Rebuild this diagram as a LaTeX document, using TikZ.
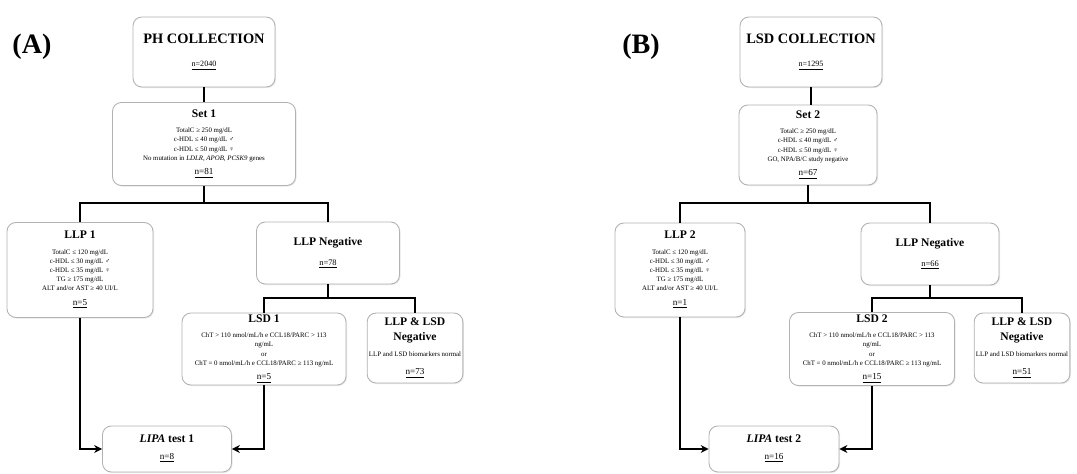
\documentclass[tikz,border=0pt]{standalone}
\usepackage{fontspec}
\setmainfont{Liberation Serif}
\usetikzlibrary{arrows.meta,calc,positioning,shadows}
\newcommand\boxtitle{\bfseries\fontsize{6.6}{8}\selectfont}
\newcommand\bigtitle{\bfseries\fontsize{8.2}{10}\selectfont}
\newcommand\crit{\fontsize{3.9}{5.2}\selectfont}
\newcommand\cnt{\fontsize{5.2}{6.5}\selectfont}
\tikzset{
  panel/.style={font=\bfseries\fontsize{16}{18}\selectfont},
  box/.style={draw=black!30,fill=white,rounded corners=5pt,line width=.5pt,align=center,inner sep=1pt,
    font=\crit,drop shadow={opacity=.18,shadow xshift=.6pt,shadow yshift=-.6pt}},
  link/.style={draw=black,line width=.8pt},
  arr/.style={link,-{Stealth[length=4.5pt,width=4.5pt]}},
}
\begin{document}
\begin{tikzpicture}[x=0.02cm,y=-0.02cm]
  \useasboundingbox (0,0) rectangle (1077,473);
  % panel (A)
  \node[panel] (labA) at (32,47) {(A)};
  \node[box,minimum width=2.84cm,minimum height=1.4cm] (phc) at (204,52)
    {{\bigtitle PH COLLECTION}\\[8pt]{\fontsize{4.6}{6}\selectfont\underline{n=2040}}};
  \node[box,minimum width=3.66cm,minimum height=1.66cm] (set1) at (204,144)
    {{\boxtitle Set 1}\\[3.5pt]TotalC ≥ 250 mg/dL\\c-HDL ≤ 40 mg/dL ♂\\c-HDL ≤ 50 mg/dL ♀\\
     No mutation in \textit{LDLR, APOB, PCSK9} genes\\[3pt]{\cnt\underline{n=81}}};
  \node[box,minimum width=2.92cm,minimum height=1.9cm] (llp1) at (80,270)
    {{\boxtitle LLP 1}\\[3.5pt]TotalC ≤ 120 mg/dL\\c-HDL ≤ 30 mg/dL ♂\\c-HDL ≤ 35 mg/dL ♀\\
     TG ≥ 175 mg/dL\\ALT and/or AST ≥ 40 UI/L\\[3pt]{\cnt\underline{n=5}}};
  \node[box,minimum width=2.86cm,minimum height=1.24cm] (llpneg1) at (328,253)
    {{\boxtitle LLP Negative}\\[6pt]{\fontsize{4.8}{6}\selectfont\underline{n=78}}};
  \node[box,minimum width=3.28cm,minimum height=1.44cm] (lsd1) at (264,349)
    {{\boxtitle LSD 1}\\[3.5pt]ChT > 110 nmol/mL/h e CCL18/PARC > 113\\ng/mL\\or\\
     ChT = 0 nmol/mL/h e CCL18/PARC ≥ 113 ng/mL\\[3pt]{\cnt\underline{n=5}}};
  \node[box,minimum width=1.88cm,minimum height=1.4cm] (lspneg1) at (415,348)
    {{\boxtitle LLP \& LSD}\\[3pt]{\boxtitle Negative}\\[4pt]LLP and LSD biomarkers normal\\[5pt]{\cnt\underline{n=73}}};
  \node[box,minimum width=2.58cm,minimum height=0.92cm] (lipa1) at (167,449)
    {{\boxtitle\textit{LIPA} test 1}\\[4pt]{\cnt\underline{n=8}}};
  \coordinate (brA1) at (204,203);
  \coordinate (brA2) at (328,298);
  \draw[link] (phc) -- (set1);
  \draw[link] (set1) -- (brA1);
  \draw[link] (brA1) -| (llp1.north);
  \draw[link] (brA1) -| (llpneg1.north);
  \draw[link] (llpneg1) -- (brA2);
  \draw[link] (brA2) -| (lsd1.north);
  \draw[link] (brA2) -| (lspneg1.north);
  \draw[arr] (llp1.south) |- (lipa1.west);
  \draw[arr] (lsd1.south) |- (lipa1.east);
  % panel (B)
  \node[panel] (labB) at (641,47) {(B)};
  \node[box,minimum width=2.84cm,minimum height=1.4cm] (lsdc) at (811,52)
    {{\bigtitle LSD COLLECTION}\\[8pt]{\fontsize{4.6}{6}\selectfont\underline{n=1295}}};
  \node[box,minimum width=2.76cm,minimum height=1.6cm] (set2) at (808,145)
    {{\boxtitle Set 2}\\[3.5pt]TotalC ≥ 250 mg/dL\\c-HDL ≤ 40 mg/dL ♂\\c-HDL ≤ 50 mg/dL ♀\\
     GO, NPA/B/C study negative\\[3pt]{\cnt\underline{n=67}}};
  \node[box,minimum width=2.6cm,minimum height=1.88cm] (llp2) at (680,270)
    {{\boxtitle LLP 2}\\[3.5pt]TotalC ≤ 120 mg/dL\\c-HDL ≤ 30 mg/dL ♂\\c-HDL ≤ 35 mg/dL ♀\\
     TG ≥ 175 mg/dL\\ALT and/or AST ≥ 40 UI/L\\[3pt]{\cnt\underline{n=1}}};
  \node[box,minimum width=2.76cm,minimum height=1.24cm] (llpneg2) at (930,254)
    {{\boxtitle LLP Negative}\\[6pt]{\fontsize{4.8}{6}\selectfont\underline{n=66}}};
  \node[box,minimum width=3.3cm,minimum height=1.46cm] (lsd2) at (872,349)
    {{\boxtitle LSD 2}\\[3.5pt]ChT > 110 nmol/mL/h e CCL18/PARC > 113\\ng/mL\\or\\
     ChT = 0 nmol/mL/h e CCL18/PARC ≥ 113 ng/mL\\[3pt]{\cnt\underline{n=15}}};
  \node[box,minimum width=1.9cm,minimum height=1.4cm] (lspneg2) at (1022,348)
    {{\boxtitle LLP \& LSD}\\[3pt]{\boxtitle Negative}\\[4pt]LLP and LSD biomarkers normal\\[5pt]{\cnt\underline{n=51}}};
  \node[box,minimum width=2.6cm,minimum height=0.92cm] (lipa2) at (774,449)
    {{\boxtitle\textit{LIPA} test 2}\\[4pt]{\cnt\underline{n=16}}};
  \coordinate (brB1) at (808,203);
  \coordinate (brB2) at (930,298);
  \draw[link] (lsdc.south) -- (lsdc.south |- set2.north);
  \draw[link] (set2) -- (brB1);
  \draw[link] (brB1) -| (llp2.north);
  \draw[link] (brB1) -| (llpneg2.north);
  \draw[link] (llpneg2) -- (brB2);
  \draw[link] (brB2) -| (lsd2.north);
  \draw[link] (brB2) -| (lspneg2.north);
  \draw[arr] (llp2.south) |- (lipa2.west);
  \draw[arr] (lsd2.south) |- (lipa2.east);
\end{tikzpicture}
\end{document}
